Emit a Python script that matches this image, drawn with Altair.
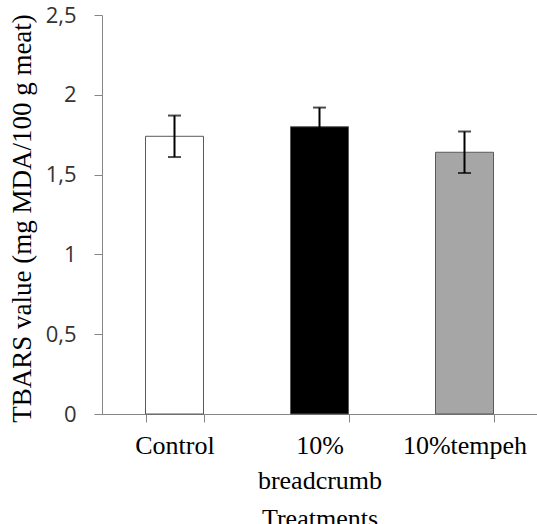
import altair as alt
import pandas as pd

categories = ["Control", "10% breadcrumb", "10%tempeh"]
means = [1.74, 1.80, 1.64]
errors = [0.13, 0.12, 0.13]
fills = ["#ffffff", "#000000", "#a6a6a6"]
y_ticks = [0, 0.5, 1, 1.5, 2, 2.5]

df = pd.DataFrame({
    "cat": categories,
    "mean": means,
    "lo": [m - e for m, e in zip(means, errors)],
    "hi": [m + e for m, e in zip(means, errors)],
})

xscale = alt.Scale(domain=categories, paddingInner=0.6, paddingOuter=0.3)
yscale = alt.Scale(domain=[0, 2.5])

xaxis = alt.Axis(title="Treatments", labelAngle=0, tickBand="extent",
                 labelExpr="datum.value == '10% breadcrumb' ? ['10%', 'breadcrumb'] : datum.label",
                 labelFont="Liberation Serif", labelFontSize=26, labelColor="#000000",
                 labelLineHeight=35, labelPadding=10, labelBaseline="top",
                 titleFont="Liberation Serif", titleFontSize=26, titleFontWeight="normal",
                 titleColor="#000000", titlePadding=12,
                 domainColor="#868686", tickColor="#868686", tickSize=8)
yaxis = alt.Axis(title="TBARS value (mg MDA/100 g meat)", values=y_ticks, grid=False,
                 labelExpr="replace(toString(datum.value), '.', ',')",
                 tickSize=8, domainColor="#868686", tickColor="#868686",
                 titleFont="Liberation Serif", titleFontSize=27, titleFontWeight="normal",
                 titleColor="#000000", titleX=-80, titleY=203, titleAngle=-90,
                 titleAlign="center", titleBaseline="middle")

base = alt.Chart(df)

bars = base.mark_bar(stroke="#595959", strokeWidth=1).encode(
    x=alt.X("cat:N", sort=categories, scale=xscale, axis=xaxis),
    y=alt.Y("mean:Q", scale=yscale, axis=yaxis),
    fill=alt.Fill("cat:N", scale=alt.Scale(domain=categories, range=fills), legend=None),
)

rule = base.mark_rule(color="#000000", strokeWidth=2).encode(
    x=alt.X("cat:N", sort=categories, scale=xscale, axis=xaxis),
    y=alt.Y("lo:Q", scale=yscale, axis=yaxis),
    y2="hi:Q",
)
tick_lo = base.mark_tick(color="#000000", thickness=2, size=13).encode(
    x=alt.X("cat:N", sort=categories, scale=xscale, axis=xaxis),
    y=alt.Y("lo:Q", scale=yscale, axis=yaxis),
)
tick_hi = base.mark_tick(color="#000000", thickness=2, size=13).encode(
    x=alt.X("cat:N", sort=categories, scale=xscale, axis=xaxis),
    y=alt.Y("hi:Q", scale=yscale, axis=yaxis),
)

chart = alt.layer(bars, rule, tick_lo, tick_hi).properties(
    width=435, height=399,
    background="white",
    autosize=alt.AutoSizeParams(type="none"),
    padding={"left": 102, "top": 15, "right": 0, "bottom": 110},
).configure_view(stroke=None).configure_axisY(
    labelFont="Open Sans", labelFontSize=22, labelColor="#333333", labelPadding=18
)

chart.save("out.html", embed_options={"renderer": "svg", "actions": False})
